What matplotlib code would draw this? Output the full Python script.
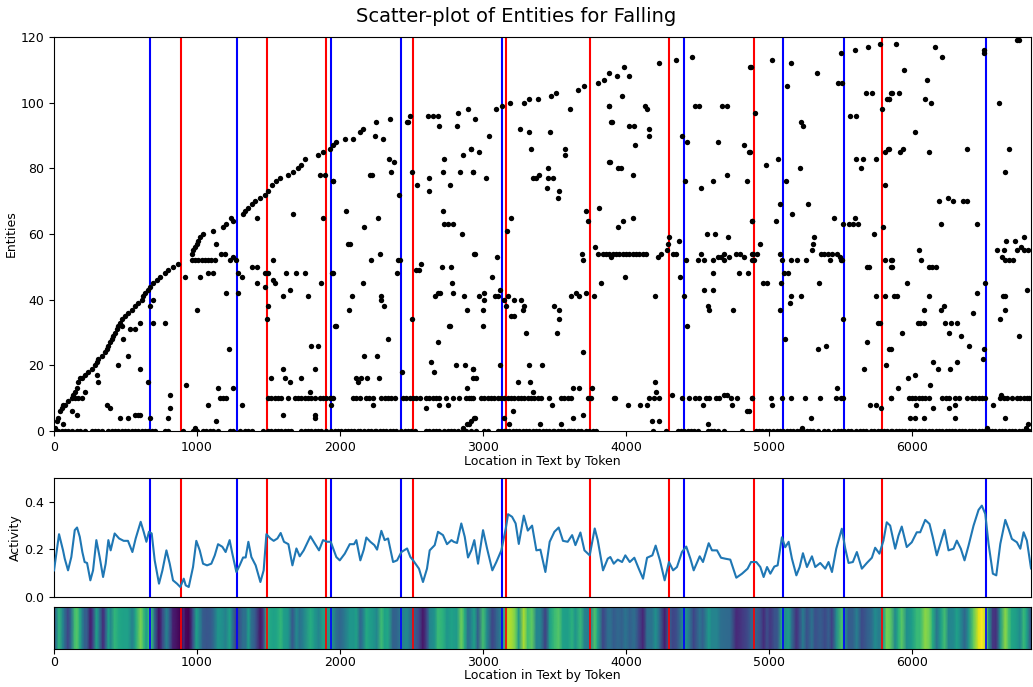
import numpy as np
import matplotlib.pyplot as plt

# ==========================================================
# DATA
# ==========================================================

X_MAX = 6832

# boundaries
blue_x = [670, 1278, 1934, 2423, 3135, 4406, 5098, 5524, 6516]
red_x  = [887, 1487, 1899, 2507, 3163, 3748, 4302, 4895, 5789]

# first appearance of each entity (the rising front)
curve_x = [7, 20, 30, 42, 53, 65, 77, 100, 123, 135, 147, 158, 170, 182, 193, 216, 240, 263, 286,
           300, 310, 333, 356, 368, 379, 391, 403, 414, 426, 438, 449, 461, 472, 496, 519, 542, 566,
           589, 612, 624, 635, 659, 670, 694, 717, 740, 775, 798, 833, 868, 962, 975, 985, 997, 1008,
           1020, 1043, 1113, 1183, 1206, 1241, 1253, 1322, 1334, 1357, 1381, 1404, 1439, 1474, 1497,
           1527, 1550, 1583, 1637, 1672, 1707, 1730, 1753, 1846, 1881, 1928, 1951, 1974, 2032, 2090,
           2137, 2160, 2253, 2346, 2474, 2486, 2614, 2649, 2684, 2823, 2893, 3091, 3131, 3189, 3284,
           3319, 3382, 3475, 3510, 3662, 3708, 3801, 3848, 3883, 3988, 4232, 4349, 4460, 5500, 5600,
           5691, 5775, 5885, 6157, 6210, 6504, 6504, 6734, 6750]
curve_y = [1, 3, 4, 6, 7, 8, 8, 9, 10, 11, 12, 13, 15, 16, 16, 17, 18, 19, 20,
           21, 22, 23, 24, 25, 26, 27, 28, 29, 30, 31, 32, 33, 34, 35, 36, 37, 38,
           39, 40, 41, 42, 43, 44, 45, 46, 47, 48, 49, 50, 51, 54, 55, 56, 57, 58,
           59, 60, 61, 62, 63, 65, 64, 66, 67, 68, 69, 70, 71, 72, 73,
           75, 76, 77, 78, 79, 80, 81, 83, 84, 85, 86, 87, 88, 89, 89,
           91, 92, 94, 95, 94, 96, 96, 96, 96, 97, 98, 98, 99, 100, 100,
           101, 101, 102, 103, 104, 105, 106, 107, 109, 111, 112, 113, 114, 115, 116,
           117, 118, 118, 117, 114, 115, 116, 119, 119]

# mentions of entity 0
row0_x = [7, 30, 53, 77, 100, 123, 158, 182, 216, 263, 286, 310, 333, 379, 403, 426, 449, 472, 496,
          519, 542, 566, 589, 612, 635, 659, 682, 705, 775, 798, 903, 973,
          997, 1043, 1066, 1090, 1113, 1148, 1229, 1253, 1299, 1334, 1357, 1381, 1462, 1497, 1520,
          1544, 1567, 1590, 1613, 1637, 1660, 1730, 1753, 1776, 1800, 1823, 1846, 1870, 1904,
          1939, 1962, 1985, 2008, 2032, 2055, 2078, 2101, 2125, 2137, 2171, 2194, 2218, 2241, 2253,
          2276, 2300, 2323, 2346, 2369, 2392, 2427, 2451, 2474, 2497, 2521, 2602, 2625, 2649, 2672,
          2695, 2730, 2753, 2777, 2800, 2823, 2858, 2881, 2916,
          2952, 3010, 3033, 3103, 3126, 3149, 3161, 3184, 3208, 3231, 3254, 3277, 3301, 3324, 3347,
          3370, 3394, 3417, 3440, 3464, 3487, 3499, 3522, 3545, 3568, 3592, 3603, 3615, 3638, 3661,
          3685, 3720, 3743, 3766, 3789,
          4186, 4279, 4360, 4383, 4407, 4430, 4453, 4477, 4500, 4570, 4593, 4616, 4640, 4686, 4814,
          4907, 4930, 4953, 4976, 4999, 5030, 5053, 5077, 5100, 5123, 5147, 5170, 5193, 5216, 5240,
          5263, 5286, 5309, 5340, 5386, 5409, 5456, 5479, 5502, 5526, 5549, 5572, 5611, 5635, 5658,
          5681, 5712, 5735, 5759, 5782, 5805, 5828, 5851,
          5861, 5885, 5908, 5931, 5954, 5978, 6001, 6024, 6048, 6071, 6094, 6117, 6141, 6164, 6187,
          6210, 6234, 6257, 6280, 6303, 6327, 6350, 6373, 6397, 6420, 6443, 6466, 6490, 6513, 6536,
          6560, 6583, 6606, 6629, 6653, 6676, 6699, 6722, 6746, 6769, 6792, 6815]

# mentions of entity 10
row10_x = [147, 170, 193,
           1160, 1183, 1206, 1497, 1520, 1544, 1567, 1590, 1637, 1683, 1707, 1730, 1753, 1776, 1800,
           1823, 1858, 1881, 1904, 1928, 1951,
           1939, 2090, 2113, 2137, 2183, 2206, 2230, 2288, 2311, 2334, 2358, 2381, 2439, 2462, 2486,
           2509, 2532, 2556, 2602, 2625, 2649, 2672, 2695, 2742, 2788, 2835, 2881, 2905, 2928,
           2917, 2986, 3010, 3033, 3056, 3080, 3103, 3126, 3149, 3173, 3196, 3219, 3243, 3266, 3289,
           3312, 3336, 3359, 3382, 3405, 3464, 3545, 3568, 3592, 3615, 3731, 3754, 3917,
           3925, 4162, 4197, 4227, 4390, 4437, 4484, 4512, 4558, 4581, 4628, 4651, 4733, 4779, 4884,
           4883, 5016, 5093, 5151, 5251, 5353, 5465, 5500, 5516, 5856,
           5850, 5978, 6001, 6024, 6048, 6071, 6094, 6117, 6210, 6234, 6257, 6303, 6327, 6385, 6420,
           6443, 6466, 6490, 6513, 6618, 6641, 6664, 6699, 6734, 6757, 6781, 6804, 6816]

# mentions of entity 52 (early) and 54 (middle)
row52_x = [962, 985, 1008, 1032, 1055, 1078, 1101, 1125]
row54_x = [3883, 3906, 3929, 3953, 3976, 3999, 4023, 4046, 4069, 4092, 4116, 4139]

# all remaining mentions
other_x = [65, 368, 391, 461, 519, 566, 589, 601, 670, 798, 810, 810, 922, 123, 158, 216, 310, 298,
           449, 519, 601, 659, 670, 694, 694, 775, 915, 531, 566, 484, 601, 472,
           985, 1136, 1078, 1148, 1253, 1311, 1602, 1823, 1823, 1788, 1520, 1613, 1648, 1730, 1602,
           1823, 1225, 1800, 1846, 1171, 1194, 1229, 1253, 1271, 1078, 1113, 1288, 1311, 1381, 1416,
           1474, 1497, 1532, 1532, 1544, 1416, 1474, 1625, 1695, 1753, 1870, 1648, 1602, 1776, 1951,
           1020, 997, 1201, 1288, 1497, 1490, 1672, 1416, 1881, 1858, 1893, 1951, 1136, 1963,
           1950, 2043, 2171, 2265, 2055, 2067, 2218, 2276, 1946, 2160, 2083, 2060, 2288, 2288, 2304,
           1974, 2334, 2171, 2258, 2113, 2148, 2188, 2269, 2125, 2211, 2225, 2241, 2300, 2341, 2374,
           2358, 2411, 2404, 2416, 2400, 2435, 2504, 2504, 2537, 2528, 2551, 2563, 2625, 2625, 2469,
           2695, 2819, 2730, 2718, 2770, 2858, 2919, 2840, 2928, 2718, 2726, 2758, 2793, 2853, 2935,
           2712, 2777, 2784, 2788, 2667, 2684, 2700, 2870, 2886, 2760, 2770, 2684, 2637, 2656, 2812,
           2874, 2928, 2886, 2928, 2230, 2602, 2695, 2758, 1939, 2858, 2886, 2905, 2935,
           2947, 3045, 2917, 2975, 2933, 3021, 3259, 3324, 3336, 3471, 3347, 3370, 3394, 3457, 3457,
           3487, 3445, 3529, 3522, 3573, 3573, 3610, 3883, 3894, 3883, 3196, 3166, 2945, 3096, 3061,
           3121, 2970, 3010, 3010, 3003, 2998, 3087, 3108, 3149, 3161, 3177, 3219, 3266, 3277, 3289,
           3196, 3219, 3301, 3499, 3529, 3529, 3515, 3615, 3650, 3673, 3720, 3778, 3824, 3696, 3720,
           3736, 3813, 3689, 3696, 3783, 3801, 3836, 3859, 3894, 3119, 2933, 2952, 3319, 3412, 3243,
           3331, 3347, 3208, 3482, 3631, 3668, 3762, 3696, 3627, 3545, 3401, 3180, 3145, 2945, 2917,
           3934, 4018, 3969, 4868, 3883, 4134, 4144, 4484, 4507, 4670, 4709, 3899, 4023, 4058, 4162,
           4162, 4065, 4388, 4423, 4642, 4826, 4861, 3888, 3941, 3964, 4051, 4414, 4523, 4605, 4709,
           4849, 3946, 3981, 4046, 4879, 4297, 4290, 4367, 4565, 4621, 4716, 4283, 4220, 4244, 4325,
           4349, 4418, 4500, 4523, 4546, 4605, 4640, 4663, 4686, 4686, 4721, 4768, 4795, 4826, 4884,
           4884, 3992, 4376, 4605, 4791, 4856, 4202, 4402, 4546, 4609, 4570, 4577, 4751, 4425, 4011,
           4100, 4146, 4321, 4539, 4686, 4709, 4740, 4849, 4202, 4209, 4181, 4232, 4570,
           5018, 4872, 5156, 5333, 5128, 5484, 5512, 5679, 5717, 5856, 5826, 5836, 5791, 4902, 5221,
           5239, 5565, 5605, 4869, 5065, 4976, 5216, 5605, 5656, 5640, 5749, 5810, 5833, 5814, 5121,
           5074, 5274, 5163, 5051, 4879, 5454, 5600, 5519, 5558, 5586, 5624, 5733, 5796, 5314, 5309,
           5302, 4934, 4888, 4918, 4895, 5074, 5093, 5151, 5198, 5260, 5360, 5384, 5414, 5442, 5477,
           5493, 5500, 5423, 5512, 5810, 5856, 5856, 5682, 5698, 5104, 5135, 4960, 4988, 5081, 5349,
           5156, 5144, 5226, 5745, 5810, 5077, 5763, 5775, 5516, 5111, 5344, 5395, 5686, 5663, 5821,
           5842, 5023, 5477, 5705, 5749, 5784, 4860, 5291, 5232,
           5943, 6106, 5861, 5908, 5838, 6094, 6134, 6606, 6024, 5838, 5919, 5936, 6117, 6385, 6681,
           6653, 6187, 6252, 6287, 6355, 6385, 6199, 6455, 6048, 5857, 5857, 6064, 6117, 6141, 6164,
           5966, 6513, 6595, 6641, 6657, 6723, 6781, 6630, 6653, 6676, 6704, 6734, 6765, 6781, 6811,
           6804, 6455, 6637, 6653, 5873, 5896, 6117, 6082, 6222, 6199, 6425, 6613, 6653, 6746, 6043,
           6059, 6082, 6229, 6269, 6315, 5931, 6257, 6339, 6397, 5850, 6501, 6497, 6148, 6180, 6264,
           6315, 6024, 5973, 6124, 5903, 6564, 6029, 6148, 6257, 6303, 5989, 6024, 6082, 6303, 6648,
           6525, 6797, 6811, 6625]
other_y = [2, 8, 7, 4, 4, 5, 5, 5, 4, 4, 7, 11, 14, 6, 5, 12, 15, 17,
           20, 23, 19, 15, 38, 40, 33, 33, 47, 31, 31, 28, 33, 32,
           1, 3, 8, 13, 13, 8, 5, 4, 5, 12, 16, 16, 15, 16, 19,
           19, 25, 26, 26, 54, 54, 52, 53, 52, 48, 48, 48, 47, 50, 50,
           48, 48, 52, 46, 45, 45, 44, 48, 48, 48, 45, 43, 41, 41, 48,
           47, 37, 42, 42, 38, 34, 66, 65, 65, 78, 78, 76, 57, 32,
           76, 67, 62, 65, 57, 57, 52, 54, 48, 45, 41, 37, 41, 40, 38,
           32, 28, 23, 23, 16, 16, 16, 16, 15, 78, 78, 90, 89, 83, 82,
           79, 72, 52, 52, 48, 18, 79, 34, 75, 49, 49, 51, 77, 73, 94,
           93, 93, 83, 79, 75, 84, 86, 79, 79, 67, 63, 63, 63, 60, 54,
           50, 50, 45, 42, 41, 42, 42, 41, 37, 32, 32, 27, 21, 18, 20,
           20, 19, 13, 16, 8, 7, 8, 8, 8, 1, 2, 2, 4,
           95, 90, 86, 85, 79, 77, 92, 91, 86, 91, 77, 77, 78, 80, 77,
           77, 74, 73, 71, 86, 84, 98, 99, 94, 82, 65, 61, 54, 53, 47,
           43, 41, 42, 40, 37, 32, 41, 41, 40, 38, 41, 40, 40, 37, 38,
           35, 35, 30, 38, 37, 34, 30, 41, 42, 41, 42, 41, 45, 24, 67,
           64, 68, 54, 52, 56, 54, 54, 54, 53, 20, 19, 16, 20, 20, 15,
           15, 12, 6, 8, 13, 13, 13, 5, 4, 2, 2, 2, 4, 4, 3,
           108, 108, 102, 111, 99, 99, 98, 99, 99, 99, 99, 94, 93, 93, 92,
           90, 87, 90, 88, 88, 87, 85, 82, 80, 80, 78, 76, 74, 76, 78,
           76, 62, 64, 65, 64, 59, 57, 58, 60, 60, 59, 55, 53, 54, 54,
           54, 52, 52, 54, 52, 52, 53, 53, 54, 52, 53, 54, 54, 53, 54,
           52, 47, 47, 48, 48, 48, 41, 41, 43, 43, 38, 37, 37, 32, 8,
           8, 8, 11, 8, 11, 11, 8, 6, 15, 12, 3, 3, 2,
           113, 111, 112, 109, 105, 106, 106, 103, 103, 103, 101, 101, 98, 97, 94,
           93, 96, 96, 85, 83, 81, 80, 83, 83, 80, 83, 85, 86, 75, 76,
           69, 69, 66, 64, 64, 65, 65, 63, 63, 63, 63, 60, 62, 59, 57,
           55, 57, 54, 54, 52, 54, 52, 52, 52, 52, 54, 54, 54, 54, 54,
           53, 52, 52, 52, 52, 52, 50, 50, 50, 48, 48, 45, 45, 45, 45,
           41, 39, 41, 41, 41, 37, 33, 33, 34, 28, 25, 26, 27, 19, 20,
           25, 8, 13, 8, 8, 7, 6, 4, 1,
           110, 107, 103, 103, 101, 101, 100, 100, 91, 86, 85, 86, 85, 86, 86,
           79, 70, 71, 70, 70, 70, 63, 63, 55, 52, 50, 52, 50, 50, 50,
           45, 45, 55, 55, 58, 58, 59, 53, 52, 52, 52, 55, 56, 55, 55,
           43, 42, 41, 41, 41, 41, 41, 37, 38, 37, 36, 34, 37, 29, 33,
           33, 33, 33, 33, 33, 30, 30, 29, 26, 25, 25, 22, 21, 19, 19,
           21, 17, 16, 14, 13, 8, 8, 7, 7, 8, 4, 4, 4, 4, 4,
           1, 1, 2, 11]

# smoothed activity
act_x = [0, 16, 35, 63, 75, 98, 121, 145, 161, 180, 198, 214, 231, 254, 273, 296, 319, 343, 361,
         380, 396, 424, 455, 487, 517, 548, 571, 606, 627, 646, 664, 683, 704, 734, 758, 786, 809,
         832, 860, 883, 907, 921, 942, 972, 995, 1019, 1042, 1070, 1100, 1124, 1147, 1177, 1200,
         1228, 1247, 1275, 1298, 1322, 1340, 1359, 1380, 1410, 1443, 1466, 1485, 1513, 1536, 1562,
         1585, 1608, 1639, 1667, 1695, 1718, 1746, 1793, 1823, 1853, 1881, 1911, 1935, 1974, 1998,
         2033, 2068, 2098, 2114, 2142, 2166, 2184, 2212, 2240, 2259, 2289, 2312, 2336, 2371, 2399,
         2429, 2469, 2492, 2511, 2552, 2580, 2608, 2627, 2662, 2685, 2720, 2748, 2779, 2795, 2818,
         2848, 2872, 2895, 2918, 2939, 2965, 3000, 3028, 3065, 3093, 3128, 3159, 3175, 3203, 3228,
         3250, 3285, 3313, 3343, 3373, 3401, 3436, 3466, 3499, 3529, 3559, 3592, 3623, 3646, 3681,
         3709, 3746, 3781, 3802, 3839, 3872, 3890, 3914, 3942, 3972, 3995, 4026, 4058, 4089, 4119,
         4147, 4184, 4207, 4237, 4270, 4300, 4329, 4356, 4391, 4421, 4450, 4473, 4515, 4538, 4578,
         4601, 4636, 4664, 4694, 4729, 4771, 4811, 4850, 4874, 4911, 4939, 4962, 4986, 5009, 5037,
         5060, 5090, 5113, 5137, 5160, 5191, 5214, 5237, 5265, 5300, 5323, 5358, 5393, 5416, 5440,
         5470, 5509, 5533, 5556, 5586, 5614, 5649, 5684, 5719, 5742, 5772, 5800, 5823, 5847, 5882,
         5905, 5928, 5963, 5998, 6033, 6057, 6092, 6122, 6145, 6173, 6201, 6227, 6255, 6290, 6313,
         6341, 6367, 6395, 6430, 6465, 6488, 6512, 6535, 6565, 6589, 6617, 6652, 6675, 6698, 6733,
         6757, 6780, 6803, 6832]
act_y = [0.112, 0.182, 0.264, 0.196, 0.161, 0.112, 0.168, 0.281, 0.292, 0.253, 0.189, 0.147, 0.143,
         0.070, 0.112, 0.239, 0.168, 0.084, 0.140, 0.239, 0.196, 0.267, 0.246, 0.236, 0.236, 0.189,
         0.246, 0.316, 0.274, 0.232, 0.274, 0.267, 0.154, 0.056, 0.112, 0.196, 0.140, 0.070, 0.056,
         0.042, 0.077, 0.049, 0.042, 0.126, 0.236, 0.196, 0.140, 0.133, 0.140, 0.175, 0.222, 0.211,
         0.189, 0.239, 0.182, 0.105, 0.133, 0.166, 0.166, 0.232, 0.168, 0.133, 0.063, 0.112, 0.264,
         0.246, 0.236, 0.246, 0.269, 0.232, 0.222, 0.133, 0.204, 0.171, 0.196, 0.255, 0.225, 0.196,
         0.239, 0.232, 0.232, 0.168, 0.154, 0.182, 0.222, 0.222, 0.239, 0.154, 0.199, 0.250, 0.232,
         0.218, 0.199, 0.278, 0.239, 0.246, 0.147, 0.154, 0.189, 0.204, 0.168, 0.154, 0.119, 0.063,
         0.119, 0.196, 0.218, 0.274, 0.260, 0.222, 0.239, 0.232, 0.227, 0.309, 0.253, 0.166, 0.196,
         0.239, 0.140, 0.281, 0.204, 0.112, 0.147, 0.196, 0.288, 0.348, 0.337, 0.309,
         0.223, 0.342, 0.279, 0.300, 0.196, 0.199, 0.105, 0.232, 0.274, 0.292, 0.236, 0.232, 0.260,
         0.218, 0.271, 0.196, 0.175, 0.288, 0.239, 0.112, 0.161, 0.168, 0.140, 0.157, 0.147, 0.175,
         0.147, 0.165, 0.119, 0.077, 0.165, 0.175, 0.216, 0.154, 0.070, 0.147, 0.112, 0.126, 0.189,
         0.212, 0.161, 0.112, 0.171, 0.147, 0.226, 0.196, 0.196, 0.165, 0.161, 0.157, 0.081, 0.098,
         0.119, 0.147, 0.147, 0.126, 0.084, 0.126, 0.098, 0.128, 0.133, 0.251, 0.209, 0.232, 0.161,
         0.091, 0.126, 0.184, 0.126, 0.171, 0.126, 0.143, 0.119, 0.147, 0.105, 0.203, 0.287, 0.203,
         0.143, 0.147, 0.189, 0.119, 0.143, 0.165, 0.207, 0.182, 0.237, 0.314, 0.300, 0.203, 0.258,
         0.296, 0.210, 0.230, 0.272, 0.272, 0.324, 0.307, 0.251, 0.175, 0.230, 0.282, 0.196, 0.203,
         0.237, 0.203, 0.154, 0.216, 0.300, 0.366, 0.384, 0.349, 0.223, 0.098, 0.091, 0.223, 0.324,
         0.286, 0.244, 0.230, 0.203, 0.272, 0.237, 0.120]

# ==========================================================
# Figure
# ==========================================================

fig = plt.figure(figsize=(10.33, 6.87), dpi=100)
ax1 = fig.add_axes([0.0523, 0.3726, 0.9458, 0.5735])
ax2 = fig.add_axes([0.0523, 0.1310, 0.9458, 0.1732])
ax3 = fig.add_axes([0.0523, 0.0560, 0.9458, 0.0611])

fig.suptitle("Scatter-plot of Entities for Falling", fontsize=14, y=0.99)

# ---- scatter of entity mentions ----
dot = dict(s=15, c="black", zorder=3, linewidths=0)
ax1.scatter(curve_x, curve_y, **dot)
ax1.scatter(row0_x, [0] * len(row0_x), **dot)
ax1.scatter(row10_x, [10] * len(row10_x), **dot)
ax1.scatter(row52_x, [52] * len(row52_x), **dot)
ax1.scatter(row54_x, [54] * len(row54_x), **dot)
ax1.scatter(other_x, other_y, **dot)

for ax, lw in [(ax1, 1.5), (ax2, 1.5), (ax3, 1.2)]:
    for xb in blue_x:
        ax.axvline(xb, color="blue", lw=lw, zorder=2)
    for xr in red_x:
        ax.axvline(xr, color="red", lw=lw, zorder=2)

ax1.set_xlim(0, X_MAX)
ax1.set_ylim(0, 120)
ax1.set_ylabel("Entities", fontsize=9, labelpad=2)
ax1.set_xlabel("Location in Text by Token", fontsize=9, labelpad=1)

# ---- activity ----
ax2.plot(act_x, act_y, color="tab:blue", lw=1.5, zorder=3)
ax2.set_xlim(0, X_MAX)
ax2.set_ylim(0, 0.5)
ax2.set_yticks([0.0, 0.2, 0.4])
ax2.set_xticks([])
ax2.set_ylabel("Activity", fontsize=9, labelpad=2)

# ---- heat strip ----
act_arr = np.array(act_y)
ax3.pcolormesh(act_x, [0, 1], np.vstack([act_arr, act_arr]),
               shading="gouraud", cmap="viridis")
ax3.set_xlim(0, X_MAX)
ax3.set_ylim(0, 1)
ax3.set_yticks([])
ax3.set_xlabel("Location in Text by Token", fontsize=9, labelpad=0)

for ax in (ax1, ax2, ax3):
    ax.tick_params(labelsize=9)
ax3.tick_params(axis="x", pad=2)

plt.savefig("out.png", dpi=100)
